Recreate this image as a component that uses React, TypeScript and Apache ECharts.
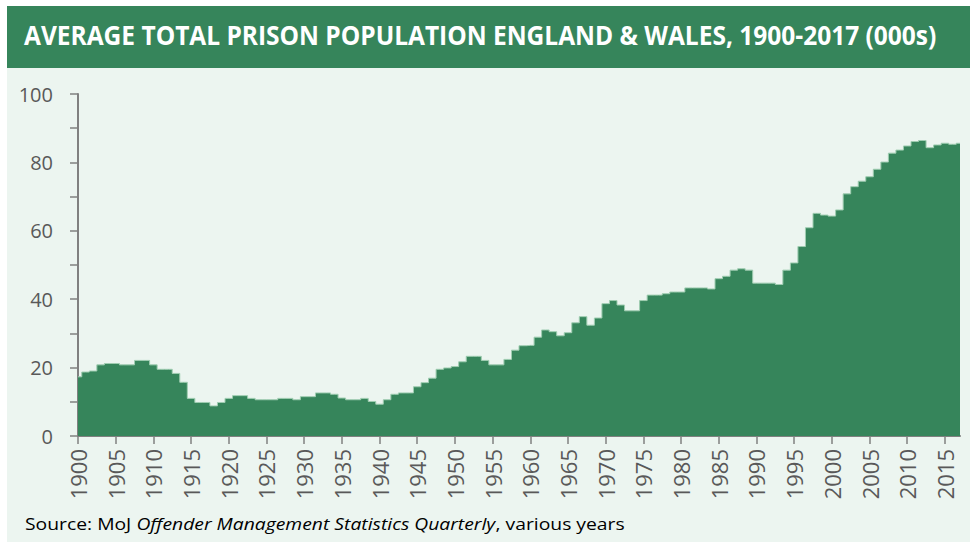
import React, { useEffect, useRef } from 'react';
import * as echarts from 'echarts';

// Categories: years 1900..2017
const years: string[] = [];
for (let y = 1900; y <= 2017; y++) years.push(String(y));

// Average total prison population (000s)
const population: number[] = [
  17.3, 18.7, 19.0, 20.8, 21.2, 21.2, 20.8, 20.8, 22.1, 22.1, // 1900-1909
  20.8, 19.5, 19.5, 18.3, 15.7, 11.0, 9.8, 9.8, 8.8, 9.8, // 1910-1919
  11.0, 11.8, 11.8, 11.0, 10.6, 10.6, 10.6, 11.0, 11.0, 10.6, // 1920-1929
  11.5, 11.5, 12.6, 12.6, 12.2, 11.1, 10.6, 10.6, 11.0, 10.1, // 1930-1939
  9.3, 10.6, 12.2, 12.6, 12.6, 14.4, 15.6, 16.9, 19.5, 19.9, // 1940-1949
  20.3, 21.7, 23.3, 23.3, 22.1, 20.8, 20.8, 22.4, 25.1, 26.4, // 1950-1959
  26.5, 28.9, 31.0, 30.5, 29.3, 30.2, 33.1, 34.9, 32.4, 34.5, // 1960-1969
  38.7, 39.6, 38.3, 36.6, 36.6, 39.6, 41.2, 41.2, 41.6, 42.1, // 1970-1979
  42.1, 43.3, 43.3, 43.3, 43.0, 46.0, 46.7, 48.5, 48.9, 48.5, // 1980-1989
  44.7, 44.7, 44.7, 44.3, 48.5, 50.6, 55.4, 60.9, 65.1, 64.6, // 1990-1999
  64.3, 66.1, 70.8, 72.9, 74.5, 75.8, 78.0, 80.1, 82.7, 83.6, // 2000-2009
  84.8, 86.1, 86.4, 84.3, 85.1, 85.6, 85.3, 85.6, // 2010-2017
];

const yTickLabels: number[] = [0, 20, 40, 60, 80, 100];

const TITLE = 'AVERAGE TOTAL PRISON POPULATION ENGLAND & WALES, 1900-2017 (000s)';
const SOURCE_A = 'Source: MoJ ';
const SOURCE_B = 'Offender Management Statistics Quarterly';
const SOURCE_C = ', various years';

const FONT = "'Open Sans', 'Noto Sans', sans-serif";
const GREEN = '#36855b';
const LIGHT = '#ecf5f0';
const TEXT = '#595959';
const AXIS = '#808080';

function measure(font: string, text: string): number {
  const ctx = document.createElement('canvas').getContext('2d');
  if (!ctx) return 1;
  ctx.font = font;
  return ctx.measureText(text).width || 1;
}

export default function App() {
  const ref = useRef<HTMLDivElement>(null);

  useEffect(() => {
    if (!ref.current) return;
    const chart = echarts.init(ref.current, null, { renderer: 'svg' });

    const titleW = measure(`bold 26px ${FONT}`, TITLE);
    const titleScale = 913 / titleW;
    const srcW =
      measure(`17px ${FONT}`, SOURCE_A) +
      measure(`italic 17px ${FONT}`, SOURCE_B) +
      measure(`17px ${FONT}`, SOURCE_C);
    const srcScale = 600 / srcW;

    chart.setOption({
      animation: false,
      backgroundColor: '#ffffff',
      graphic: [
        {
          type: 'rect',
          z: 0,
          silent: true,
          shape: { x: 7, y: 6, width: 963, height: 62 },
          style: { fill: GREEN },
        },
        {
          type: 'rect',
          z: 0,
          silent: true,
          shape: { x: 7, y: 68, width: 963, height: 474 },
          style: { fill: LIGHT },
        },
        {
          type: 'text',
          z: 1,
          x: 24,
          y: 35,
          scaleX: titleScale,
          style: {
            text: TITLE,
            font: `bold 26px ${FONT}`,
            fill: '#ffffff',
            align: 'left',
            verticalAlign: 'middle',
          },
        },
        {
          type: 'text',
          z: 1,
          x: 25,
          y: 523,
          scaleX: srcScale,
          style: {
            text: `{n|${SOURCE_A}}{i|${SOURCE_B}}{n|${SOURCE_C}}`,
            align: 'left',
            verticalAlign: 'middle',
            rich: {
              n: { fontFamily: FONT, fontSize: 17, color: TEXT },
              i: { fontFamily: FONT, fontSize: 17, color: TEXT, fontStyle: 'italic' },
            },
          },
        },
      ],
      grid: { left: 78, right: 10, top: 94, bottom: 106, containLabel: false },
      xAxis: {
        type: 'category',
        data: years,
        boundaryGap: false,
        axisLine: { show: true, lineStyle: { color: AXIS, width: 2 } },
        axisTick: { show: true, interval: 4, length: 8, lineStyle: { color: AXIS, width: 1.5 } },
        axisLabel: {
          interval: 4,
          rotate: 90,
          margin: 13,
          color: TEXT,
          fontFamily: FONT,
          fontSize: 22,
        },
        splitLine: { show: false },
      },
      yAxis: {
        type: 'value',
        min: 0,
        max: 100,
        interval: 10,
        axisLine: { show: true, lineStyle: { color: AXIS, width: 2 } },
        axisTick: { show: true, length: 8, lineStyle: { color: AXIS, width: 1.5 } },
        axisLabel: {
          margin: 25,
          color: TEXT,
          fontFamily: FONT,
          fontSize: 20,
          formatter: (v: number) => (yTickLabels.indexOf(v) >= 0 ? String(v) : ''),
        },
        splitLine: { show: false },
      },
      series: [
        {
          type: 'line',
          data: population,
          step: 'middle',
          symbol: 'none',
          lineStyle: { color: '#9fcdb1', width: 1 },
          areaStyle: { color: GREEN, opacity: 1 },
          z: 2,
        },
      ],
    });

    return () => chart.dispose();
  }, []);

  return (
    <div
      ref={ref}
      style={{ position: 'absolute', left: 0, top: 0, width: 970, height: 542 }}
    />
  );
}
